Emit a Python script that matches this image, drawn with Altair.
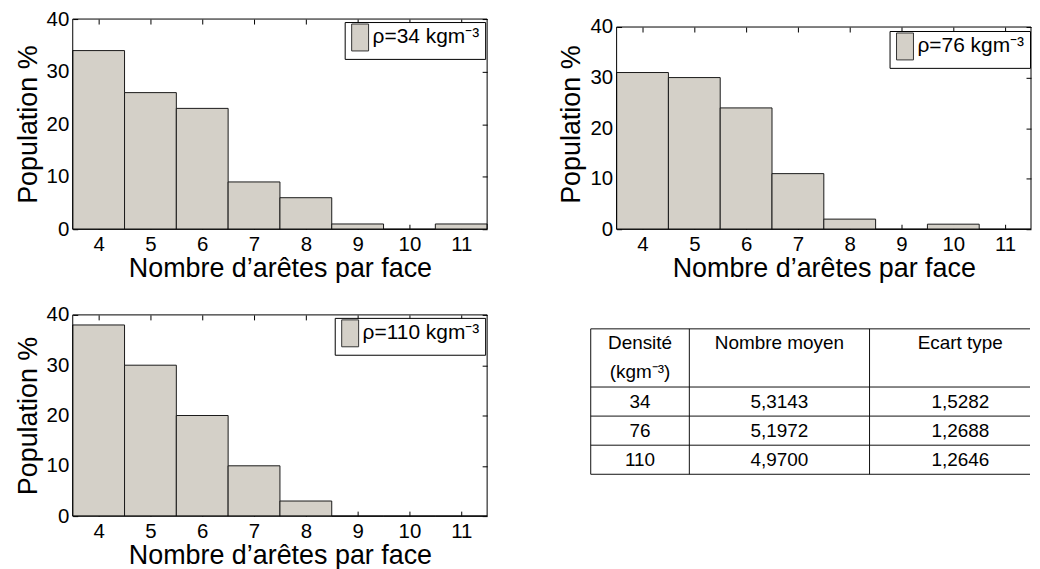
import altair as alt
import pandas as pd

# ---------------- data ----------------
edges = [4, 5, 6, 7, 8, 9, 10, 11]
pop34 = [34, 26, 23, 9, 6, 1, 0, 1]
pop76 = [31, 30, 24, 11, 2, 0, 1, 0]
pop110 = [38, 30, 20, 10, 3, 0, 0, 0]
series_labels = ["ρ=34 kgm⁻³", "ρ=76 kgm⁻³", "ρ=110 kgm⁻³"]
y_ticks = [0, 10, 20, 30, 40]
x_range = [3.5, 11.5]
y_range = [0, 40]
x_title = "Nombre d’arêtes par face"
y_title = "Population %"

header_top = ["Densité", "Nombre moyen", "Ecart type"]
header_bottom = ["(kgm⁻³)", "", ""]
densities = ["34", "76", "110"]
means = ["5,3143", "5,1972", "4,9700"]
stds = ["1,5282", "1,2688", "1,2646"]

FONT = "Liberation Sans"
BAR = "#d4d0c8"
EDGE = "#1a1a1a"
SWATCH = "M-1,-1.59L1,-1.59L1,1.59L-1,1.59Z"   # tall legend swatch


def panel(values, label, w, h, gap=0, legend_xy=None):
    """gap: blank pixels above the frame inside the view."""
    df = pd.DataFrame({"n": edges, "p": values, "lab": [label] * len(edges)})
    base = alt.Chart(df).transform_calculate(
        lo="datum.n - 0.5", hi="datum.n + 0.5", z="0")
    ytop = y_range[1] * h / (h - gap)
    xs = alt.Scale(domain=x_range, nice=False, zero=False)
    ys = alt.Scale(domain=[y_range[0], ytop], nice=False, zero=False)
    common = dict(domain=False, grid=False, ticks=True, tickSize=5,
                  tickColor="black", labelFont=FONT, labelFontSize=20.5,
                  labelColor="black", titleFont=FONT, titleFontSize=27,
                  titleFontWeight="normal", titleColor="black")
    if legend_xy is None:
        lg = dict(orient="top-right", offset=2.5)
    else:
        lg = dict(orient="none", legendX=legend_xy[0], legendY=legend_xy[1])
    bars = base.mark_rect(stroke=EDGE, strokeWidth=1).encode(
        x=alt.X("lo:Q", scale=xs,
                axis=alt.Axis(orient="bottom", values=edges, title=x_title, offset=-5,
                              labelPadding=5, titlePadding=1, **common)),
        x2="hi:Q",
        y=alt.Y("p:Q", scale=ys,
                axis=alt.Axis(orient="left", values=y_ticks, title=y_title, offset=-5,
                              labelPadding=4, titlePadding=4, **common)),
        y2="z:Q",
        color=alt.Color("lab:N", scale=alt.Scale(range=[BAR]),
                        legend=alt.Legend(
                            title=None, padding=5,
                            strokeColor="black", fillColor="white", cornerRadius=0,
                            symbolType=SWATCH, symbolSize=289,
                            symbolStrokeColor="#333", symbolStrokeWidth=1,
                            symbolOpacity=1,
                            labelFont=FONT, labelFontSize=21, labelColor="black",
                            labelOffset=2, **lg)),
    )
    ticks = base.mark_rect(opacity=0).encode(
        x=alt.X("lo:Q", scale=xs,
                axis=alt.Axis(orient="top", values=edges, title=None, labels=False,
                              offset=-(gap + 5), **common)),
        x2="hi:Q",
        y=alt.Y("p:Q", scale=ys,
                axis=alt.Axis(orient="right", values=y_ticks, title=None, labels=False,
                              offset=-5, **common)),
        y2="z:Q",
    )
    fdf = pd.DataFrame({"x0": [x_range[0]], "x1": [x_range[1]],
                        "y0": [y_range[0]], "y1": [y_range[1]]})
    frame = alt.Chart(fdf).mark_rect(fillOpacity=0, stroke="black", strokeWidth=1).encode(
        x=alt.X("x0:Q", scale=xs, axis=None), x2="x1:Q",
        y=alt.Y("y0:Q", scale=ys, axis=None), y2="y1:Q",
    )
    return alt.layer(bars, ticks, frame).resolve_scale(
        x="independent", y="independent").properties(width=w, height=h)


p1 = panel(pop34, series_labels[0], 416, 211)
p2 = panel(pop76, series_labels[1], 416, 211, gap=8, legend_xy=(274, 12))
p3 = panel(pop110, series_labels[2], 416, 202)

# ---------------- table ----------------
col_bounds = [0, 0.22, 0.622, 1.027]      # column edges (fraction of table width)
col_centers = [(col_bounds[i] + col_bounds[i + 1]) / 2 for i in range(3)]
row_edges = [0, 2, 3, 4, 5]               # header spans rows 0-1
TABLE_W = 441
table_visible = TABLE_W / 450             # right part of last column is cut off

cells = []
for i in range(3):
    cells.append({"cx": col_centers[i], "ry": 0.5, "txt": header_top[i]})
    if header_bottom[i]:
        cells.append({"cx": col_centers[i], "ry": 1.5, "txt": header_bottom[i]})
for j in range(3):
    for i, col in enumerate([densities, means, stds]):
        cells.append({"cx": col_centers[i], "ry": row_edges[j + 1] + 0.5, "txt": col[j]})
tdf = pd.DataFrame(cells)
vdf = pd.DataFrame({"x": col_bounds[0:3], "y0": [row_edges[0]] * 3, "y1": [row_edges[-1]] * 3})
hdf = pd.DataFrame({"y": row_edges, "x0": [0] * len(row_edges),
                    "x1": [table_visible] * len(row_edges)})

txs = alt.Scale(domain=[0, table_visible], nice=False, zero=False)
tys = alt.Scale(domain=[5, -0.48], nice=False, zero=False)
ttext = alt.Chart(tdf).mark_text(font=FONT, fontSize=19, color="black").encode(
    x=alt.X("cx:Q", scale=txs, axis=None),
    y=alt.Y("ry:Q", scale=tys, axis=None),
    text="txt:N",
)
vlines = alt.Chart(vdf).mark_rule(color="#111", strokeWidth=1).encode(
    x=alt.X("x:Q", scale=txs, axis=None),
    y=alt.Y("y0:Q", scale=tys, axis=None), y2="y1:Q",
)
hlines = alt.Chart(hdf).mark_rule(color="#111", strokeWidth=1).encode(
    y=alt.Y("y:Q", scale=tys, axis=None),
    x=alt.X("x0:Q", scale=txs, axis=None), x2="x1:Q",
)
table = alt.layer(vlines, hlines, ttext).properties(width=TABLE_W, height=160)

row1 = alt.hconcat(p1, p2, spacing=70).resolve_scale(color="independent").resolve_legend(color="independent")
row2 = alt.hconcat(p3, table, spacing=102).resolve_scale(color="independent").resolve_legend(color="independent")

chart = alt.vconcat(row1, row2, spacing=23).resolve_scale(
    color="independent").resolve_legend(color="independent").configure_view(
    strokeOpacity=0
).properties(padding={"left": 6, "top": 0, "right": 0, "bottom": 0})

chart.save("out.html", embed_options={"renderer": "svg", "actions": False})
